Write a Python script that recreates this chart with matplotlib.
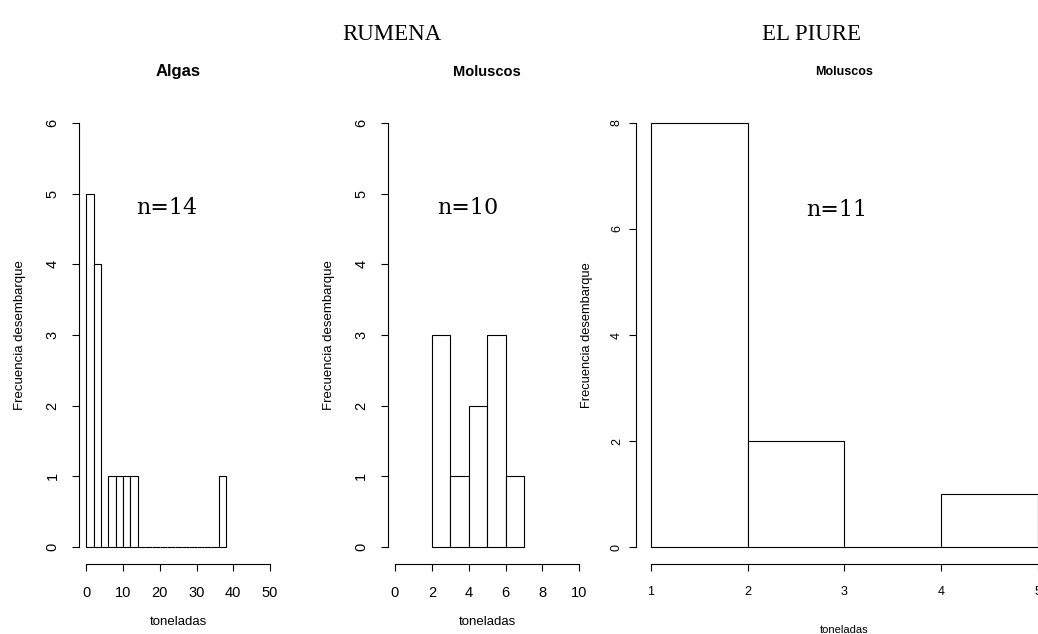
import matplotlib
matplotlib.use("Agg")
import matplotlib.pyplot as plt
import numpy as np

W, H = 1038, 634

# ---- data ----
algas_edges = [0, 2, 4, 6, 8, 10, 12, 14, 16, 18, 20, 22, 24, 26, 28, 30, 32, 34, 36, 38]
algas_counts = [5, 4, 0, 1, 1, 1, 1, 0, 0, 0, 0, 0, 0, 0, 0, 0, 0, 0, 1]
rum_mol_edges = [2, 3, 4, 5, 6, 7]
rum_mol_counts = [3, 1, 2, 3, 1]
piure_edges = [1, 2, 3, 4, 5]
piure_counts = [8, 2, 0, 1]

sans = "Liberation Sans"
serif = "Liberation Serif"
nfont = "DejaVu Serif"


def add_ax(fig, left, right, top, bottom):
    return fig.add_axes([left / W, 1 - bottom / H, (right - left) / W, (bottom - top) / H])


fig = plt.figure(figsize=(W / 100, H / 100), dpi=100)


def draw(ax, edges, counts, xlim, ylim, xticks, yticks, title, tsize, n_text, n_xy,
         fs_tick, fs_xlab, fs_ylab, ypad, xlabpad, ylabpad, tpad):
    edges = np.asarray(edges, float)
    ax.bar(edges[:-1], counts, width=np.diff(edges), align="edge",
           facecolor="white", edgecolor="black", linewidth=0.8)
    ax.set_xlim(*xlim)
    ax.set_ylim(*ylim)
    for s in ("top", "right"):
        ax.spines[s].set_visible(False)
    ax.spines["left"].set_bounds(yticks[0], yticks[-1])
    ax.spines["bottom"].set_bounds(xticks[0], xticks[-1])
    for s in ("left", "bottom"):
        ax.spines[s].set_linewidth(0.8)
    ax.set_xticks(xticks)
    ax.set_yticks(yticks)
    ax.tick_params(axis="both", direction="out", length=5, width=0.8)
    ax.tick_params(axis="x", pad=10.5, labelsize=fs_tick)
    ax.tick_params(axis="y", pad=ypad, labelsize=fs_tick, labelrotation=90)
    for lab in ax.get_yticklabels():
        lab.set_verticalalignment("center")
        lab.set_family(sans)
    for lab in ax.get_xticklabels():
        lab.set_family(sans)
    ax.set_xlabel("toneladas", fontsize=fs_xlab, family=sans, labelpad=xlabpad)
    ax.set_ylabel("Frecuencia desembarque", fontsize=fs_ylab, family=sans, labelpad=ylabpad)
    ax.set_title(title, fontsize=tsize, fontweight="bold", family=sans, pad=tpad)
    ax.text(n_xy[0], n_xy[1], n_text, fontsize=16, family=nfont, ha="center", va="center")


ax1 = add_ax(fig, 79, 277.4, 106, 564)
draw(ax1, algas_edges, algas_counts, (-2, 52), (-0.24, 6.24),
     [0, 10, 20, 30, 40, 50], [0, 1, 2, 3, 4, 5, 6], "Algas", 12,
     "n=14", (22, 4.79), 10.5, 9.5, 9.5, 9, 12, 14, 21.5)

ax2 = add_ax(fig, 387.6, 586.7, 106, 564)
draw(ax2, rum_mol_edges, rum_mol_counts, (-0.4, 10.4), (-0.24, 6.24),
     [0, 2, 4, 6, 8, 10], [0, 1, 2, 3, 4, 5, 6], "Moluscos", 10.5,
     "n=10", (3.96, 4.79), 10.5, 9.5, 9.5, 9, 12, 14, 21.5)

ax3 = add_ax(fig, 635.5, 1053, 106, 564)
draw(ax3, piure_edges, piure_counts, (0.84, 5.16), (-0.32, 8.32),
     [1, 2, 3, 4, 5], [0, 2, 4, 6, 8], "Moluscos", 9,
     "n=11", (2.92, 6.36), 9, 8, 9.3, 4, 20, 13, 22)
ax3.spines["bottom"].set_clip_on(False)

fig.text(392 / W, 1 - 35 / H, "RUMENA", fontsize=16.5, family=serif, ha="center", va="center")
fig.text(812 / W, 1 - 35 / H, "EL PIURE", fontsize=16.5, family=serif, ha="center", va="center")

fig.savefig("out.png", dpi=100, facecolor="white")
